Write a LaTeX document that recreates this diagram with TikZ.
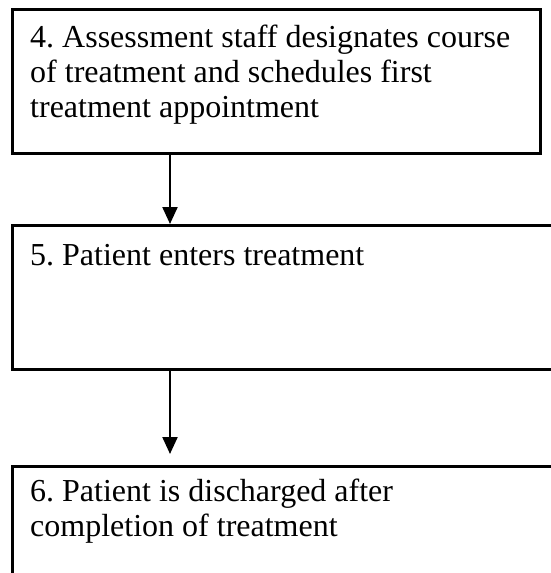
\documentclass[tikz,border=0pt]{standalone}
\usepackage{fontspec}
\setmainfont{Liberation Serif}
\usetikzlibrary{arrows.meta}
\begin{document}
\frenchspacing
\begin{tikzpicture}[x=1pt,y=-1pt,
  box/.style={draw, line width=2.6pt, rectangle, inner sep=0pt},
  lbl/.style={anchor=base west, inner sep=0pt, font=\fontsize{32}{35}\selectfont\frenchspacing, align=left},
  conn/.style={line width=2.2pt, -{Triangle[length=17pt,width=15pt]}}]
\useasboundingbox (0,0) rectangle (551,573);
\clip (0,0) rectangle (551,573);
\node[box, minimum width=528pt, minimum height=144pt, anchor=north west] (b1) at (11,8) {};
\node[box, minimum width=560pt, minimum height=144pt, anchor=north west] (b2) at (11,224) {};
\node[box, minimum width=560pt, minimum height=130pt, anchor=north west] (b3) at (11,465) {};
\node[lbl] (t1) at (30,117) {4. Assessment staff designates course\\of treatment and schedules first\\treatment appointment};
\node[lbl] (t2) at (30,265) {5. Patient enters treatment};
\node[lbl] (t3) at (30,536) {6. Patient is discharged after\\completion of treatment};
\draw[conn] ([xshift=159pt]b1.south west) -- ([xshift=159pt]b2.north west);
\draw[conn] ([xshift=159pt]b2.south west) -- ([xshift=159pt,yshift=11pt]b3.north west);
\end{tikzpicture}
\end{document}
